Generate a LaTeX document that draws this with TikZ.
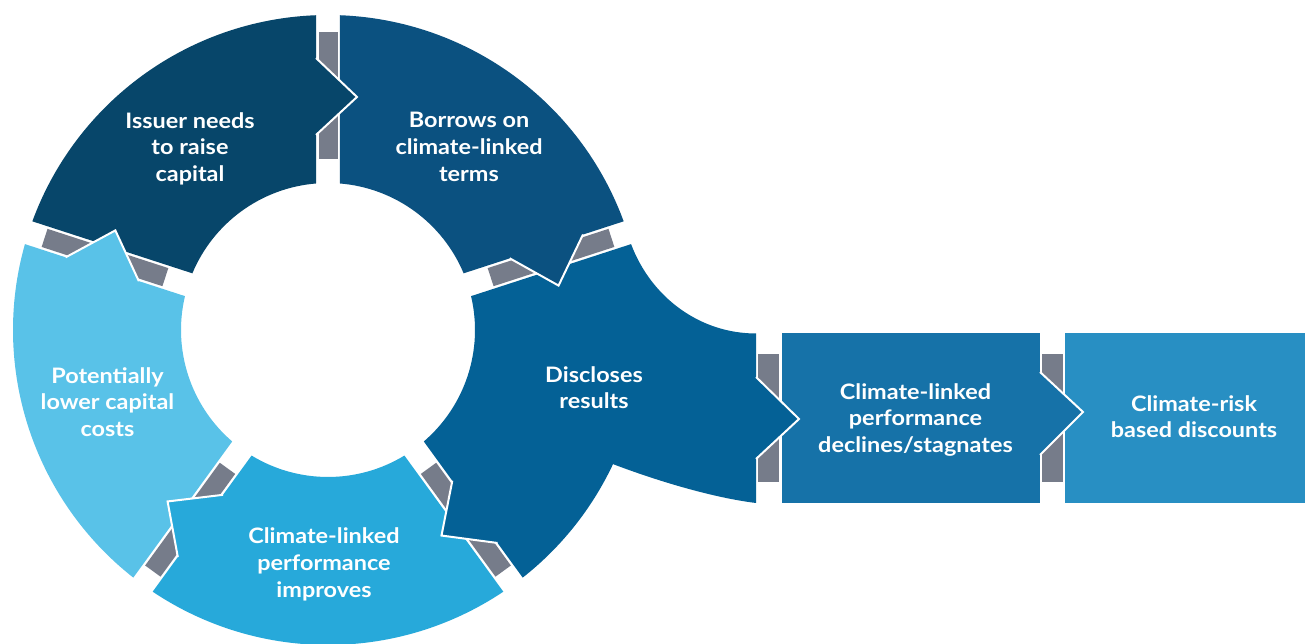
\documentclass[tikz,border=0pt]{standalone}
\usepackage{fontspec}
\setmainfont{Lato}[FakeStretch=1.1]
\usetikzlibrary{calc}
\definecolor{cIssuer}{HTML}{07466A}
\definecolor{cBorrow}{HTML}{0B5180}
\definecolor{cDisc}{HTML}{046196}
\definecolor{cImpr}{HTML}{27A9DA}
\definecolor{cPot}{HTML}{59C2E8}
\definecolor{cBoxA}{HTML}{1672A8}
\definecolor{cBoxB}{HTML}{288FC3}
\definecolor{cGray}{HTML}{767C8A}
\newcommand{\ringgap}[2]{%
  \fill[graybar] ($(C)+(#1:171)+(#1-90:-9.5)$) -- ($(C)+(#1:298)+(#1-90:-9.5)$) -- ($(C)+(#1:298)+(#1-90:9.5)$) -- ($(C)+(#1:171)+(#1-90:9.5)$) -- cycle;
  \fill[#2] ($(C)+(#1:272)+(#1-90:-13)$) -- ($(C)+(#1:272)+(#1-90:-12)$) -- ($(C)+(#1:233)+(#1-90:29)$) -- ($(C)+(#1:195)+(#1-90:-12)$) -- ($(C)+(#1:195)+(#1-90:-13)$) -- cycle;
  \draw[chev] ($(C)+(#1:272)+(#1-90:-12)$) -- ($(C)+(#1:233)+(#1-90:29)$) -- ($(C)+(#1:195)+(#1-90:-12)$);
}
% #1 left x of gap, #2 colour, #3 top y, #4 tip y, #5 bottom y, #6 tip length
\newcommand{\boxgap}[6]{%
  \fill[graybar] (#1+2,162) rectangle (#1+23,290);
  \fill[#2] (#1-1,#3) -- (#1,#3) -- (#1+#6,#4) -- (#1,#5) -- (#1-1,#5) -- cycle;
  \draw[chev] (#1,#3) -- (#1+#6,#4) -- (#1,#5);
}
\begin{document}
\begin{tikzpicture}[x=1pt,y=1pt,
  lbl/.style={text=white,font=\bfseries\fontsize{21.3}{26.7}\selectfont,align=center,inner sep=0pt},
  graybar/.style={fill=cGray},
  chev/.style={draw=white,line width=2pt,line join=miter}]
\fill[white] (0,0) rectangle (1305,644);
\useasboundingbox (0,0) rectangle (1305,644);
\coordinate (C) at (328,314);
% ring segments
\fill[cIssuer] ($(C)+(159.82:315)$) arc[start angle=159.82, end angle=92.18, radius=315] -- ($(C)+(94.68:147)$) arc[start angle=94.68, end angle=157.32, radius=147] -- cycle;
\fill[cBorrow] ($(C)+(87.82:315)$) arc[start angle=87.82, end angle=20.18, radius=315] -- ($(C)+(22.68:147)$) arc[start angle=22.68, end angle=85.32, radius=147] -- cycle;
\fill[cDisc] ($(C)+(-51.82:315)$) -- ($(C)+(-49.32:147)$) arc[start angle=-49.32, end angle=13.32, radius=147] -- ($(C)+(15.82:315)$) .. controls (651.2,346.4) and (700,310.5) .. (756,310.5) -- (756,141) .. controls (715,146) and (660,162) .. ($(C)+(-25.2:315)$) arc[start angle=-25.2, end angle=-51.82, radius=315] -- cycle;
\fill[cImpr] ($(C)+(-56.18:315)$) arc[start angle=-56.18, end angle=-123.82, radius=315] -- ($(C)+(-121.32:147)$) arc[start angle=-121.32, end angle=-58.68, radius=147] -- cycle;
\fill[cPot] ($(C)+(231.82:315)$) arc[start angle=231.82, end angle=164.18, radius=315] -- ($(C)+(166.68:147)$) arc[start angle=166.68, end angle=229.32, radius=147] -- cycle;
% boxes
\fill[cBoxA] (782,141) rectangle (1040,310.5);
\fill[cBoxB] (1065,141) rectangle (1305,310.5);
% connectors between segments
\ringgap{90}{cIssuer}
\ringgap{18}{cBorrow}
\ringgap{-54}{cDisc}
\ringgap{-126}{cImpr}
\ringgap{162}{cPot}
\boxgap{756}{cDisc}{267}{225}{185}{43}
\boxgap{1040}{cBoxA}{272}{232}{189}{43}
% labels
\node[lbl] (issuer) at (190,495.3) {Issuer needs\\to raise\\capital};
\node[lbl] (borrow) at (469,497.3) {Borrows on\\climate-linked\\terms};
\node[lbl] (pot) at (107.5,242) {Potentially\\lower capital\\costs};
\node[lbl] (impr) at (324,79.7) {Climate-linked\\performance\\improves};
\node[lbl] (disc) at (594,256.4) {Discloses\\results};
\node[lbl] (decl) at (915.5,224.1) {Climate-linked\\performance\\declines/stagnates};
\node[lbl] (disc2) at (1194,227.4) {Climate-risk\\based discounts};
\end{tikzpicture}
\end{document}
